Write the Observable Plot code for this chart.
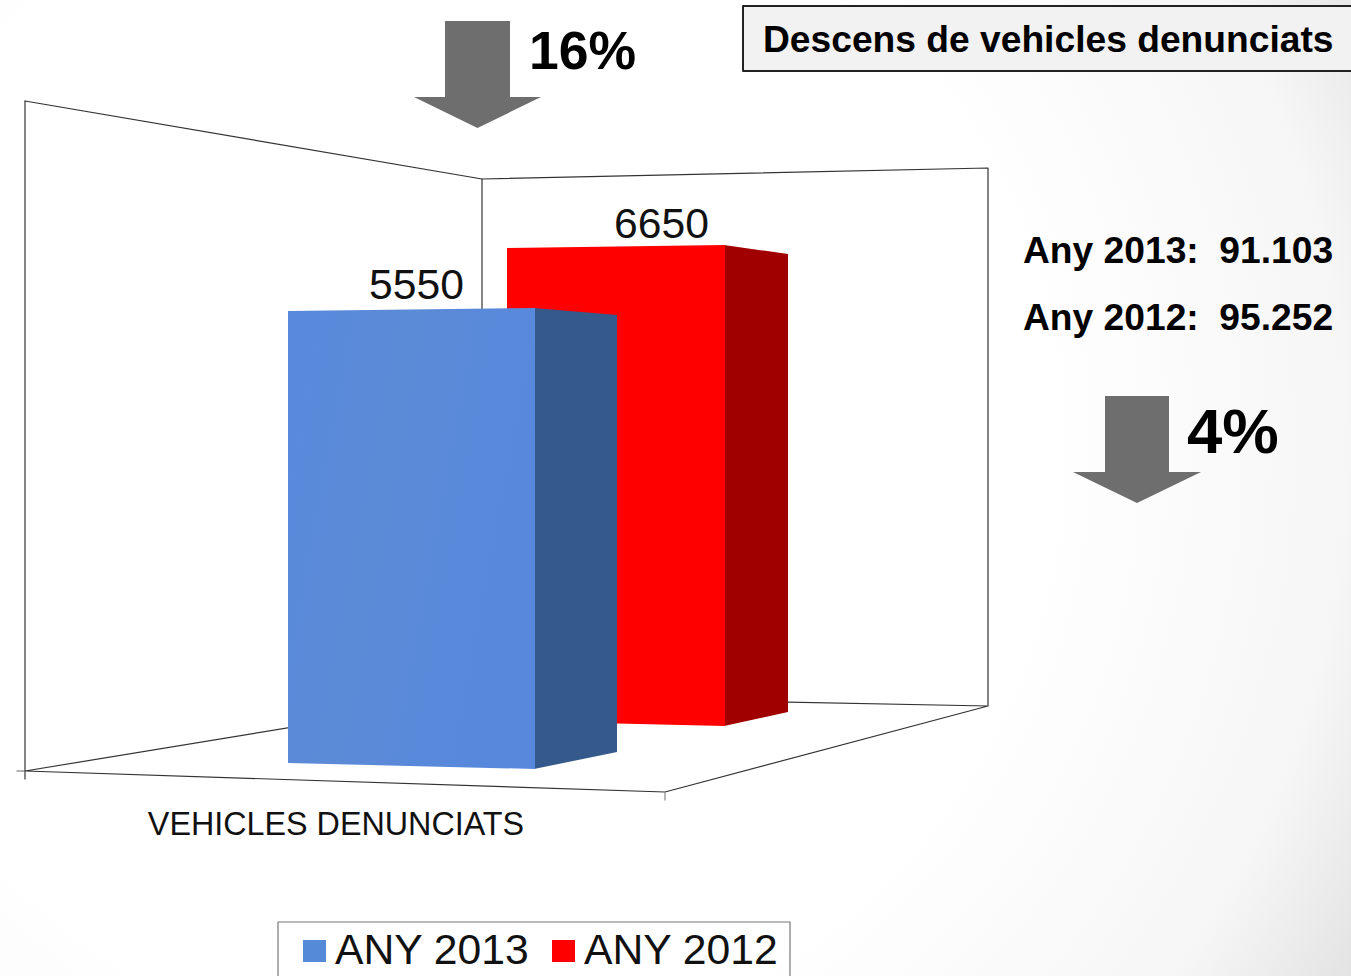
<!DOCTYPE html>
<html lang="ca">
<head>
<meta charset="utf-8">
<script src="https://cdn.jsdelivr.net/npm/d3@7"></script>
<script src="https://cdn.jsdelivr.net/npm/@observablehq/plot@0.6"></script>
<style>
  html, body { margin: 0; padding: 0; width: 1351px; height: 976px; overflow: hidden; }
  body { background: radial-gradient(circle 1043px at 450px 450px, #ffffff 0%, #ffffff 57%, #f6f6f6 86%, #e3e3e3 100%); }
  svg { display: block; }
</style>
</head>
<body>
<script>
// ---- chart data ----
const seriesNames = ["ANY 2013", "ANY 2012"];
const seriesValues = [5550, 6650];
const categoryLabel = "VEHICLES DENUNCIATS";
const titleText = "Descens de vehicles denunciats";
const totalLabels = ["Any 2013:  91.103", "Any 2012:  95.252"];
const changeLabels = ["16%", "4%"];

// ---- layout of the drawing ----
const FONT = "'Liberation Sans', Arial, sans-serif";
const axisMax = 8000;
// Perspective footprint of each bar: [x, floor y, pixel height of axisMax] on each vertical edge
const footprints = [
  {fl: [288, 763, 651.5], fr: [535, 769, 664.5], br: [617, 752, 630], labelX: 416.5, labelGap: 12,
   front: "url(#blueFront)", side: "#35598a", swatch: "#558ad9", legendX: 303, legendTextX: 335},
  {fl: [507, 721, 569], fr: [725, 726, 578.6], br: [788, 712, 551], labelX: 661.5, labelGap: 10.5,
   front: "#ff0000", side: "#a00000", swatch: "#ff0000", legendX: 552, legendTextX: 584}
];
const topY = (edge, v) => edge[1] - (v / axisMax) * edge[2];

const polygon = (points, options) =>
  Plot.line(points, {x: "0", y: "1", stroke: "none", ...options});
const segments = (points, options) =>
  Plot.line(points, {x: "0", y: "1", stroke: "#333333", strokeWidth: 1.2, ...options});
const arrow = (left, right, headLeft, headRight, yTop, yNeck, yTip, fill) =>
  polygon([[left, yNeck], [headLeft, yNeck], [headLeft, yTop], [headRight, yTop], [headRight, yNeck],
           [right, yNeck], [(left + right) / 2, yTip]], {fill});

const barFaces = (i) => {
  const f = footprints[i], v = seriesValues[i];
  return [
    polygon([[f.fr[0] - 1, topY(f.fr, v)], [f.br[0], topY(f.br, v)], [f.br[0], f.br[1]], [f.fr[0] - 1, f.fr[1]]], {fill: f.side}),
    polygon([[f.fl[0], topY(f.fl, v)], [f.fr[0], topY(f.fr, v)], [f.fr[0], f.fr[1]], [f.fl[0], f.fl[1]]], {fill: f.front}),
    Plot.text([v], {x: () => f.labelX, y: () => topY(f.fl, v) - f.labelGap, text: (d) => String(d), fontSize: 42.7,
      fontFamily: FONT, fill: "#111", textAnchor: "middle", lineAnchor: "bottom"})
  ];
};

const defs = () => {
  const s = d3.create("svg:defs");
  const g = s.append("linearGradient").attr("id", "blueFront")
    .attr("x1", "0").attr("y1", "0").attr("x2", "1").attr("y2", "0.35");
  g.append("stop").attr("offset", "0%").attr("stop-color", "#5789dc");
  g.append("stop").attr("offset", "45%").attr("stop-color", "#5b8ad6");
  g.append("stop").attr("offset", "100%").attr("stop-color", "#5788dc");
  return s.node();
};

const chart = Plot.plot({
  width: 1351,
  height: 976,
  margin: 0,
  x: {domain: [0.5, 1351.5], range: [0, 1351], axis: null},
  y: {domain: [0.5, 976.5], range: [0, 976], axis: null},
  style: {background: "transparent", fontFamily: FONT},
  marks: [
    defs,
    // floor & walls of the 3D frame
    polygon([[25, 771], [665, 792], [988, 706], [482, 696]], {fill: "#ffffff"}),
    polygon([[25, 101], [482, 179], [988, 168], [988, 706], [482, 696], [25, 771]], {fill: "#ffffff"}),
    segments([[25, 101], [482, 179], [988, 168], [988, 706], [482, 696], [25, 771], [665, 792], [988, 706]]),
    segments([[482, 179], [482, 696]]),
    segments([[25, 101], [25, 779]]),
    segments([[17, 771], [25, 771]], {stroke: "#666"}),
    segments([[665, 792], [665, 800]], {stroke: "#888"}),
    // bars, back first
    ...barFaces(1),
    ...barFaces(0),
    // category label
    Plot.text([categoryLabel], {x: () => 336, y: () => 835, text: (d) => d, fontSize: 32.3, fontFamily: FONT,
      fill: "#111", textAnchor: "middle", lineAnchor: "bottom"}),
    // arrows and changes
    arrow(414, 541, 445, 510, 21, 97, 128, "#6e6e6e"),
    arrow(1073, 1201, 1105, 1169, 396, 472, 503, "#6e6e6e"),
    Plot.text([changeLabels[0]], {x: () => 529, y: () => 69, text: (d) => d, fontSize: 53.5, fontWeight: 700,
      fontFamily: FONT, fill: "#000", textAnchor: "start", lineAnchor: "bottom"}),
    Plot.text([changeLabels[1]], {x: () => 1187, y: () => 453, text: (d) => d, fontSize: 63.5, fontWeight: 700,
      fontFamily: FONT, fill: "#000", textAnchor: "start", lineAnchor: "bottom"}),
    // yearly totals
    Plot.text(totalLabels, {x: () => 1023, y: (d, i) => [263, 330][i], text: (d) => d, fontSize: 37.2, fontWeight: 700,
      fontFamily: FONT, fill: "#000", textAnchor: "start", lineAnchor: "bottom"}),
    // title box
    polygon([[743, 6], [1360, 6], [1360, 71], [743, 71]], {fill: "#f2f2f2"}),
    segments([[1360, 6], [743, 6], [743, 71], [1360, 71]], {stroke: "#222", strokeWidth: 2}),
    Plot.text([titleText], {x: () => 763, y: () => 52, text: (d) => d, fontSize: 37.2, fontWeight: 700,
      fontFamily: FONT, fill: "#000", textAnchor: "start", lineAnchor: "bottom"}),
    // legend
    segments([[278, 977], [278, 922], [790, 922], [790, 977]], {stroke: "#777", strokeWidth: 1.2}),
    ...seriesNames.flatMap((name, i) => {
      const f = footprints[i];
      return [
        polygon([[f.legendX, 940], [f.legendX + 23, 940], [f.legendX + 23, 962], [f.legendX, 962]], {fill: f.swatch}),
        Plot.text([name], {x: () => f.legendTextX, y: () => 964, text: (d) => d, fontSize: 42.7, fontFamily: FONT,
          fill: "#111", textAnchor: "start", lineAnchor: "bottom"})
      ];
    })
  ]
});
document.body.appendChild(chart);
</script>
</body>
</html>
